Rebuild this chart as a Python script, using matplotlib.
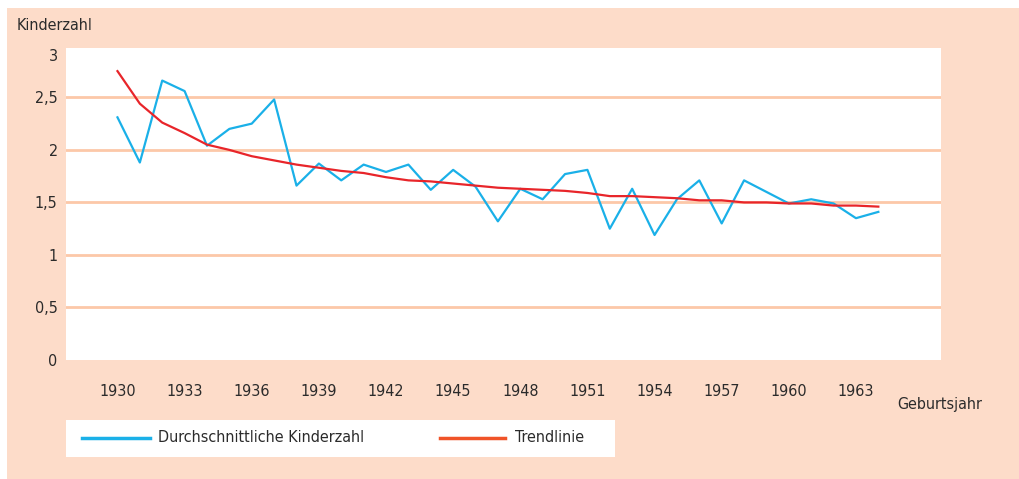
import matplotlib
matplotlib.use('Agg')
import matplotlib.pyplot as plt
from matplotlib.patches import Rectangle
from matplotlib.lines import Line2D

plt.rcParams['font.family'] = ['DejaVu Sans']
plt.rcParams['font.stretch'] = 'condensed'

# Data
years = list(range(1930, 1965))
kinderzahl = [2.31, 1.88, 2.66, 2.56, 2.04, 2.20, 2.25, 2.48, 1.66, 1.87,
              1.71, 1.86, 1.79, 1.86, 1.62, 1.81, 1.65, 1.32, 1.63, 1.53,
              1.77, 1.81, 1.25, 1.63, 1.19, 1.53, 1.71, 1.30, 1.71, 1.60,
              1.49, 1.53, 1.49, 1.35, 1.41]
trend = [2.75, 2.44, 2.26, 2.16, 2.05, 2.00, 1.94, 1.90, 1.86, 1.83,
         1.80, 1.78, 1.74, 1.71, 1.70, 1.68, 1.66, 1.64, 1.63, 1.62,
         1.61, 1.59, 1.56, 1.56, 1.55, 1.54, 1.52, 1.52, 1.50, 1.50,
         1.49, 1.49, 1.47, 1.47, 1.46]
x_ticks = list(range(1930, 1964, 3))
y_ticks = [0, 0.5, 1, 1.5, 2, 2.5]
y_labels = ['0', '0,5', '1', '1,5', '2', '2,5']

W, H = 1019, 479
peach = '#fddcc9'
grid_col = '#fcc8a8'
blue = '#1ab0e8'
red = '#e8252a'
red_legend = '#f05328'
text_col = '#2b2b2b'
fs = 11.5

fig = plt.figure(figsize=(W / 100, H / 100), dpi=100)
fig.patch.set_facecolor('white')
fig.patches.append(Rectangle((7 / W, 0), (W - 7) / W, (H - 8) / H,
                             transform=fig.transFigure, facecolor=peach,
                             edgecolor='none', zorder=0))

ax = fig.add_axes([66 / W, (H - 360) / H, (941 - 66) / W, (360 - 48) / H])
ax.set_zorder(5)
ax.set_facecolor('white')
for s in ax.spines.values():
    s.set_visible(False)

for yv in y_ticks[1:]:
    ax.axhline(yv, color=grid_col, lw=2.0, zorder=1)

ax.plot(years, kinderzahl, color=blue, lw=1.6, zorder=3)
ax.plot(years, trend, color=red, lw=1.6, zorder=4)

ax.set_xlim(1927.7, 1966.8)
ax.set_ylim(0, 2.97)
ax.set_xticks(x_ticks)
ax.set_yticks(y_ticks)
ax.set_yticklabels(y_labels)
ax.tick_params(length=0, labelsize=fs, colors=text_col)
ax.tick_params(axis='x', pad=17)
ax.tick_params(axis='y', pad=6)
# top label "3" sits a little below the plot edge in the original
ax.annotate('3', xy=(0, 2.886), xycoords=('axes fraction', 'data'),
            xytext=(-6, 0), textcoords='offset points', ha='right',
            va='center', fontsize=fs, color=text_col, annotation_clip=False)

fig.text(17 / W, 1 - 25 / H, 'Kinderzahl', fontsize=fs, color=text_col,
         va='center', ha='left')
fig.text(897 / W, 1 - 405 / H, 'Geburtsjahr', fontsize=fs, color=text_col,
         va='center', ha='left')

# legend box
fig.patches.append(Rectangle((66 / W, 1 - 457 / H), (615 - 66) / W, 37 / H,
                             transform=fig.transFigure, facecolor='white',
                             edgecolor='none', zorder=1))
ly = 1 - 438 / H
fig.lines.append(Line2D([82 / W, 150 / W], [ly, ly], transform=fig.transFigure,
                        color=blue, lw=2.5, zorder=2))
fig.text(158 / W, ly, 'Durchschnittliche Kinderzahl', fontsize=fs,
         color=text_col, va='center', ha='left', zorder=2)
fig.lines.append(Line2D([440 / W, 505 / W], [ly, ly], transform=fig.transFigure,
                        color=red_legend, lw=2.5, zorder=2))
fig.text(515 / W, ly, 'Trendlinie', fontsize=fs, color=text_col,
         va='center', ha='left', zorder=2)

fig.savefig('out.png', dpi=100, facecolor=fig.get_facecolor())
